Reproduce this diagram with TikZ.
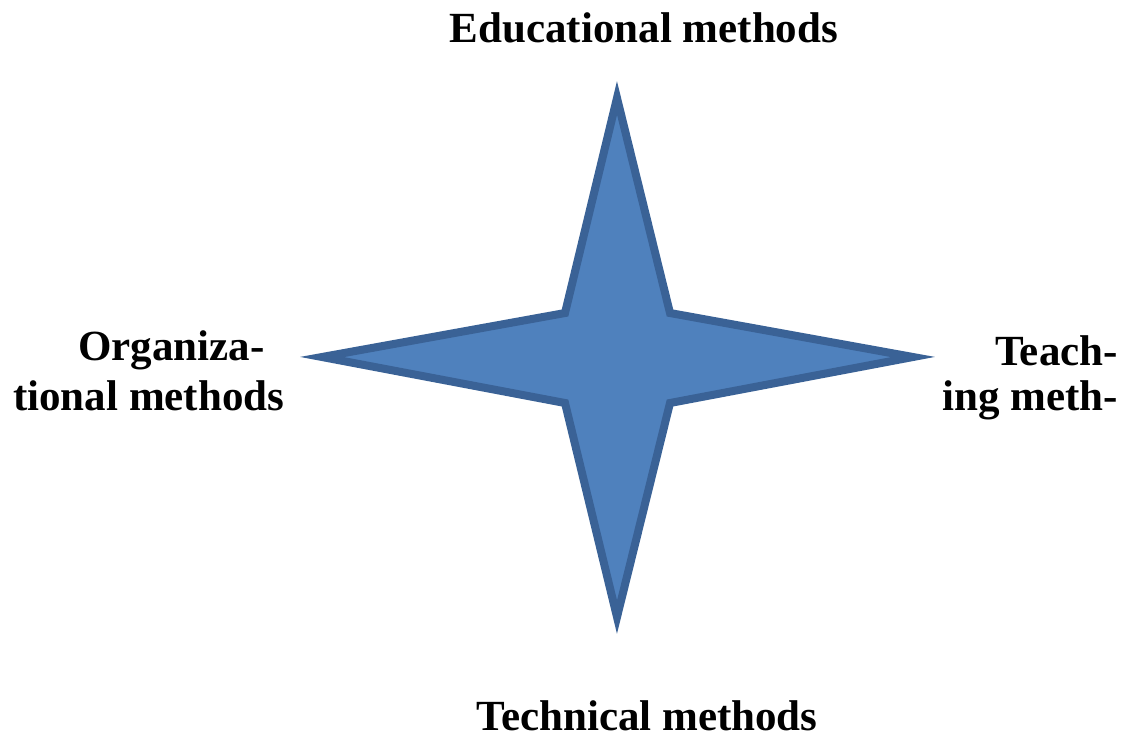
\documentclass[tikz,border=0pt]{standalone}
\usepackage{fontspec}
\setmainfont{Liberation Serif}
\definecolor{starfill}{HTML}{4F81BD}
\definecolor{starline}{HTML}{3A6296}
\tikzset{
  lbl/.style={font=\fontsize{43}{48}\selectfont\bfseries, inner sep=0pt, text=black},
  starshape/.style={fill=starfill, draw=starline, line width=8pt, line join=miter}
}
\begin{document}
\begin{tikzpicture}[x=1pt,y=-1pt]
\useasboundingbox (0,0) rectangle (1124,740);
\coordinate (T) at (617,98);
\coordinate (B) at (617,617);
\coordinate (L) at (322,357);
\coordinate (R) at (913,357);
\coordinate (TL) at (565,313);
\coordinate (TR) at (670,313);
\coordinate (BR) at (670,403);
\coordinate (BL) at (565,403);
\draw[starshape] (T) -- (TR) -- (R) -- (BR) -- (B) -- (BL) -- (L) -- (TL) -- cycle;
\node[lbl, anchor=base] (edu) at (644,42) {Educational methods};
\node[lbl, anchor=base] (tech) at (647,730) {Technical methods};
\node[lbl, anchor=base west] (org1) at (78,360) {Organiza-};
\node[lbl, anchor=base west] (org2) at (13,410) {tional methods};
\node[lbl, anchor=base east] (tea1) at (1118,365) {Teach-};
\node[lbl, anchor=base east] (tea2) at (1118,410) {ing meth-};
\end{tikzpicture}
\end{document}
